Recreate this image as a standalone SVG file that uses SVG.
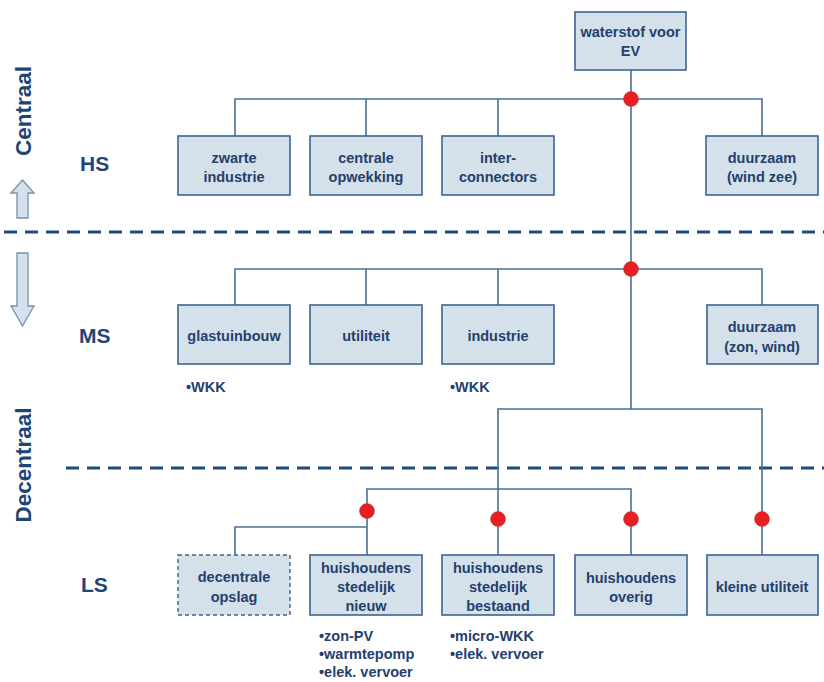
<svg xmlns="http://www.w3.org/2000/svg" width="824" height="682" viewBox="0 0 824 682">
<style>
.box{fill:#d4e1eb;stroke:#3b6491;stroke-width:1.6}
.dbox{fill:#d4e1eb;stroke:#3b6491;stroke-width:1.4;stroke-dasharray:4 3}
.t{font-family:"Liberation Sans",Arial,sans-serif;font-weight:bold;font-size:14.5px;fill:#24406c;text-anchor:middle}
.b{font-family:"Liberation Sans",Arial,sans-serif;font-weight:bold;font-size:14.5px;fill:#24406c}
.lvl{font-family:"Liberation Sans",Arial,sans-serif;font-weight:bold;font-size:21px;fill:#1f4478}
.side{font-family:"Liberation Sans",Arial,sans-serif;font-weight:bold;font-size:22.5px;fill:#1f4478;text-anchor:middle}
.c{fill:none;stroke:#46709a;stroke-width:1.6}
.dot{fill:#e81e25;stroke:#c0392b;stroke-width:0.5}
.dash{stroke:#1f4b7c;stroke-width:3.2;stroke-dasharray:13 8}
.arr{fill:#d4e1eb;stroke:#7390b2;stroke-width:1.3}
</style>
<rect width="824" height="682" fill="#ffffff"/>
<g id="separators">
<line class="dash" x1="4" y1="232" x2="824" y2="232"/>
<line class="dash" x1="66" y1="468" x2="824" y2="468"/>
</g>
<g id="side-labels">
<text class="side" transform="translate(31,111) rotate(-90)">Centraal</text>
<text class="side" transform="translate(31,465) rotate(-90)">Decentraal</text>
<polygon class="arr" points="22.5,180 34,193 28,193 28,218 17,218 17,193 11,193"/>
<polygon class="arr" points="17,253 28,253 28,306 34,306 22.5,326 11,306 17,306"/>
<text class="lvl" x="80" y="171">HS</text>
<text class="lvl" x="79" y="343">MS</text>
<text class="lvl" x="81" y="592">LS</text>
</g>
<g id="connectors">
<line class="c" x1="631" y1="70" x2="631" y2="409"/>
<polyline class="c" points="235,136 235,99 762,99 762,136"/>
<line class="c" x1="366" y1="99" x2="366" y2="136"/>
<line class="c" x1="498" y1="99" x2="498" y2="136"/>
<polyline class="c" points="235,305 235,269 762,269 762,305"/>
<line class="c" x1="366" y1="269" x2="366" y2="305"/>
<line class="c" x1="498" y1="269" x2="498" y2="305"/>
<polyline class="c" points="498,555 498,409 762,409 762,555"/>
<polyline class="c" points="367,555 367,489 631,489 631,555"/>
<polyline class="c" points="235,555 235,527 367,527"/>
<circle class="dot" cx="631" cy="99" r="7.5"/>
<circle class="dot" cx="631" cy="269" r="7.5"/>
<circle class="dot" cx="367" cy="511" r="7.5"/>
<circle class="dot" cx="498" cy="519" r="7.5"/>
<circle class="dot" cx="631" cy="519" r="7.5"/>
<circle class="dot" cx="762" cy="519" r="7.5"/>
</g>
<g id="waterstof">
<rect class="box" x="575" y="12" width="111" height="58"/>
<text class="t" x="630.5" y="37">waterstof voor</text>
<text class="t" x="630.5" y="56">EV</text>
</g>
<g id="zwarte-industrie">
<rect class="box" x="178" y="136" width="112" height="59"/>
<text class="t" x="234" y="163">zwarte</text>
<text class="t" x="234" y="182">industrie</text>
</g>
<g id="centrale-opwekking">
<rect class="box" x="310" y="136" width="112" height="59"/>
<text class="t" x="366" y="163">centrale</text>
<text class="t" x="366" y="182">opwekking</text>
</g>
<g id="interconnectors">
<rect class="box" x="442" y="136" width="112" height="59"/>
<text class="t" x="498" y="163">inter-</text>
<text class="t" x="498" y="182">connectors</text>
</g>
<g id="duurzaam-wind-zee">
<rect class="box" x="706" y="136" width="112" height="59"/>
<text class="t" x="762" y="163">duurzaam</text>
<text class="t" x="762" y="182">(wind zee)</text>
</g>
<g id="glastuinbouw">
<rect class="box" x="178" y="305" width="112" height="59"/>
<text class="t" x="234" y="341">glastuinbouw</text>
<text class="b" x="186" y="392">•WKK</text>
</g>
<g id="utiliteit">
<rect class="box" x="310" y="305" width="112" height="59"/>
<text class="t" x="366" y="341">utiliteit</text>
</g>
<g id="industrie">
<rect class="box" x="442" y="305" width="112" height="59"/>
<text class="t" x="498" y="341">industrie</text>
<text class="b" x="450" y="392">•WKK</text>
</g>
<g id="duurzaam-zon-wind">
<rect class="box" x="707" y="305" width="111" height="59"/>
<text class="t" x="762" y="332">duurzaam</text>
<text class="t" x="762" y="352">(zon, wind)</text>
</g>
<g id="decentrale-opslag">
<rect class="dbox" x="178" y="555" width="112" height="60"/>
<text class="t" x="234" y="582">decentrale</text>
<text class="t" x="234" y="602">opslag</text>
</g>
<g id="huishoudens-nieuw">
<rect class="box" x="310" y="555" width="112" height="60"/>
<text class="t" x="366" y="573">huishoudens</text>
<text class="t" x="366" y="592">stedelijk</text>
<text class="t" x="366" y="611">nieuw</text>
<text class="b" x="319" y="641">•zon-PV</text>
<text class="b" x="319" y="659">•warmtepomp</text>
<text class="b" x="319" y="677">•elek. vervoer</text>
</g>
<g id="huishoudens-bestaand">
<rect class="box" x="442" y="555" width="112" height="60"/>
<text class="t" x="498" y="573">huishoudens</text>
<text class="t" x="498" y="592">stedelijk</text>
<text class="t" x="498" y="611">bestaand</text>
<text class="b" x="450" y="641">•micro-WKK</text>
<text class="b" x="450" y="659">•elek. vervoer</text>
</g>
<g id="huishoudens-overig">
<rect class="box" x="575" y="555" width="112" height="60"/>
<text class="t" x="631" y="583">huishoudens</text>
<text class="t" x="631" y="602">overig</text>
</g>
<g id="kleine-utiliteit">
<rect class="box" x="707" y="555" width="111" height="60"/>
<text class="t" x="762" y="592">kleine utiliteit</text>
</g>
</svg>
